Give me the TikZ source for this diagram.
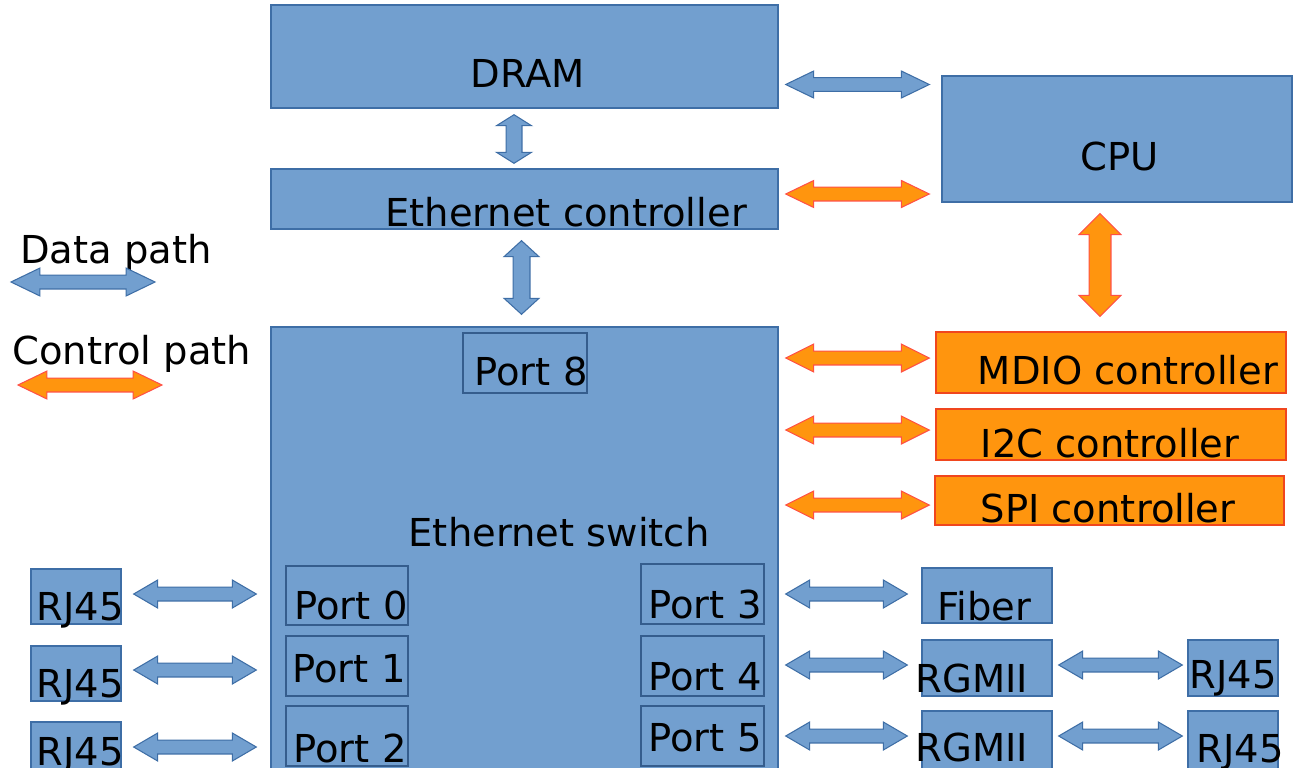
\documentclass[tikz,border=0pt]{standalone}
\usepackage{fontspec}
\setmainfont{DejaVu Sans}
\usetikzlibrary{calc,fit}

\definecolor{boxblue}{RGB}{114,159,207}
\definecolor{boxline}{RGB}{62,110,166}
\definecolor{ctlorange}{RGB}{255,149,14}
\definecolor{ctlred}{RGB}{240,70,30}
\definecolor{arrred}{RGB}{255,80,70}

\newcommand{\lblsize}{\fontsize{21.9}{26}\selectfont}

% block arrow with two heads: style, from, to, head length, head half width, shaft half width (px)
\newcommand{\dblarrow}[6]{%
  \path let \p1=#2, \p2=#3 in \pgfextra{%
    \pgfmathsetmacro\arrang{atan2(\y2-\y1,\x2-\x1)}%
    \pgfmathsetmacro\arrlen{veclen(\x2-\x1,\y2-\y1)/0.566929}%
    \xdef\arrang{\arrang}\xdef\arrlen{\arrlen}%
    \xdef\arrx{\x1}\xdef\arry{\y1}};
  \begin{scope}[shift={(\arrx,\arry)},rotate=\arrang,x=0.566929pt,y=0.566929pt]
    \filldraw[#1] (0,0) -- (#4,#5) -- (#4,#6) -- ({\arrlen-#4},#6) -- ({\arrlen-#4},#5)
      -- (\arrlen,0) -- ({\arrlen-#4},-#5) -- ({\arrlen-#4},-#6) -- (#4,-#6) -- (#4,-#5) -- cycle;
  \end{scope}}

\begin{document}
\begin{tikzpicture}[x=0.02cm,y=-0.02cm,
  box/.style={draw=boxline,fill=boxblue,inner sep=0pt,line width=0.8pt},
  portbox/.style={draw=boxline!85!black,inner sep=0pt,line width=0.8pt},
  ctlbox/.style={draw=ctlred,fill=ctlorange,inner sep=0pt,line width=0.8pt},
  lbl/.style={font=\lblsize,anchor=base,inner sep=0pt},
  dpath/.style={fill=boxblue,draw=boxline,line width=0.6pt,line join=miter},
  cpath/.style={fill=ctlorange,draw=arrred,line width=0.6pt,line join=miter}]

  \useasboundingbox[fill=white] (0,0) rectangle (1293,767);

  % boxes
  \node[box,fit={(271,5) (778,108)}] (dram) {};
  \node[box,fit={(271,169) (778,229)}] (ectl) {};
  \node[box,fit={(942,76) (1292,202)}] (cpu) {};
  \node[box,fit={(271,327) (778,780)}] (sw) {};
  \node[portbox,fit={(463,333) (587,393)}] (p8) {};
  \node[portbox,fit={(286,566) (408,625)}] (p0) {};
  \node[portbox,fit={(286,636) (408,696)}] (p1) {};
  \node[portbox,fit={(286,706) (408,766)}] (p2) {};
  \node[portbox,fit={(641,564) (764,624)}] (p3) {};
  \node[portbox,fit={(641,636) (764,696)}] (p4) {};
  \node[portbox,fit={(641,706) (764,766)}] (p5) {};
  \node[ctlbox,fit={(936,332) (1286,393)}] (mdio) {};
  \node[ctlbox,fit={(936,409) (1286,460)}] (i2c) {};
  \node[ctlbox,fit={(935,476) (1284,525)}] (spi) {};
  \node[box,fit={(922,568) (1052,623)}] (fiber) {};
  \node[box,fit={(922,640) (1052,696)}] (rg1) {};
  \node[box,fit={(922,711) (1052,780)}] (rg2) {};
  \node[box,fit={(1188,640) (1278,696)}] (rjr1) {};
  \node[box,fit={(1188,711) (1278,780)}] (rjr2) {};
  \node[box,fit={(31,569) (121,624)}] (rjl1) {};
  \node[box,fit={(31,646) (121,701)}] (rjl2) {};
  \node[box,fit={(31,722) (121,780)}] (rjl3) {};

  % labels
  \node[lbl] (t-dram) at (528,88) {DRAM};
  \node[lbl] (t-ectl) at (566,226) {Ethernet controller};
  \node[lbl] (t-cpu) at (1120,170) {CPU};
  \node[lbl] (t-sw) at (559,546) {Ethernet switch};
  \node[lbl] (t-p8) at (531,385) {Port 8};
  \node[lbl] (t-p0) at (351,619) {Port 0};
  \node[lbl] (t-p1) at (349,682) {Port 1};
  \node[lbl] (t-p2) at (350,762) {Port 2};
  \node[lbl] (t-p3) at (705,618) {Port 3};
  \node[lbl] (t-p4) at (705,690) {Port 4};
  \node[lbl] (t-p5) at (705,751) {Port 5};
  \node[lbl] (t-mdio) at (1128,384) {MDIO controller};
  \node[lbl] (t-i2c) at (1110,457) {I2C controller};
  \node[lbl] (t-spi) at (1108,522) {SPI controller};
  \node[lbl] (t-fiber) at (984,620) {Fiber};
  \node[lbl] (t-rg1) at (972,692) {RGMII};
  \node[lbl] (t-rg2) at (972,761) {RGMII};
  \node[lbl] (t-rjr1) at (1233,688) {RJ45};
  \node[lbl] (t-rjr2) at (1240,762) {RJ45};
  \node[lbl] (t-rjl1) at (80,620) {RJ45};
  \node[lbl] (t-rjl2) at (80,697) {RJ45};
  \node[lbl] (t-rjl3) at (80,765) {RJ45};
  \node[lbl,anchor=base west] (t-data) at (20,263) {Data path};
  \node[lbl,anchor=base west] (t-ctl) at (12,364) {Control path};

  % data and control paths
  \dblarrow{dpath}{($(dram.east)+(7,28)$)}{($(cpu.west)+(-12,-54.5)$)}{28}{13.5}{7}
  \dblarrow{cpath}{($(ectl.east)+(7,-5)$)}{($(cpu.west)+(-12,55)$)}{28}{13.5}{7}
  \dblarrow{dpath}{($(dram.south)+(-10.5,6)$)}{($(ectl.north)+(-10.5,-5)$)}{11}{17.5}{8}
  \dblarrow{dpath}{($(ectl.south)+(-3,11)$)}{($(sw.north)+(-3,-12)$)}{16}{17.5}{8.5}
  \dblarrow{cpath}{($(cpu.south)+(-17,11)$)}{($(mdio.north)+(-11,-15)$)}{21}{21}{11}
  \dblarrow{cpath}{($(sw.east |- mdio.west)+(7,-4.5)$)}{($(mdio.west)+(-6,-4.5)$)}{28}{14}{7}
  \dblarrow{cpath}{($(sw.east |- i2c.west)+(7,-4.5)$)}{($(i2c.west)+(-6,-4.5)$)}{28}{14}{7}
  \dblarrow{cpath}{($(sw.east |- spi.west)+(7,4.5)$)}{($(spi.west)+(-5,4.5)$)}{28}{14}{7}
  \dblarrow{dpath}{($(p3.east)+(21,0)$)}{($(fiber.west |- p3.east)+(-14,0)$)}{24}{14}{7}
  \dblarrow{dpath}{($(p4.east)+(21,-1)$)}{($(rg1.west |- p4.east)+(-14,-1)$)}{24}{14}{7}
  \dblarrow{dpath}{($(p5.east)+(21,0)$)}{($(rg2.west |- p5.east)+(-14,0)$)}{24}{14}{7}
  \dblarrow{dpath}{($(rg1.east)+(6,-3)$)}{($(rjr1.west)+(-5,-3)$)}{24}{14}{7}
  \dblarrow{dpath}{($(rg2.east |- p5.east)+(6,0)$)}{($(rjr2.west |- p5.east)+(-5,0)$)}{24}{14}{7}
  \dblarrow{dpath}{($(rjl1.east)+(12,-2.5)$)}{($(sw.west |- rjl1.east)+(-14,-2.5)$)}{24}{14}{7}
  \dblarrow{dpath}{($(rjl2.east)+(12,-3.5)$)}{($(sw.west |- rjl2.east)+(-14,-3.5)$)}{24}{14}{7}
  \dblarrow{dpath}{($(rjl3.east |- 0,747)+(12,0)$)}{($(sw.west |- 0,747)+(-14,0)$)}{24}{14}{7}

  % legend
  \dblarrow{dpath}{($(t-data.base west)+(-9,19)$)}{($(t-data.base west)+(135,19)$)}{29}{14}{7}
  \dblarrow{cpath}{($(t-ctl.base west)+(6,21)$)}{($(t-ctl.base west)+(150,21)$)}{29}{14}{7}

\end{tikzpicture}
\end{document}
